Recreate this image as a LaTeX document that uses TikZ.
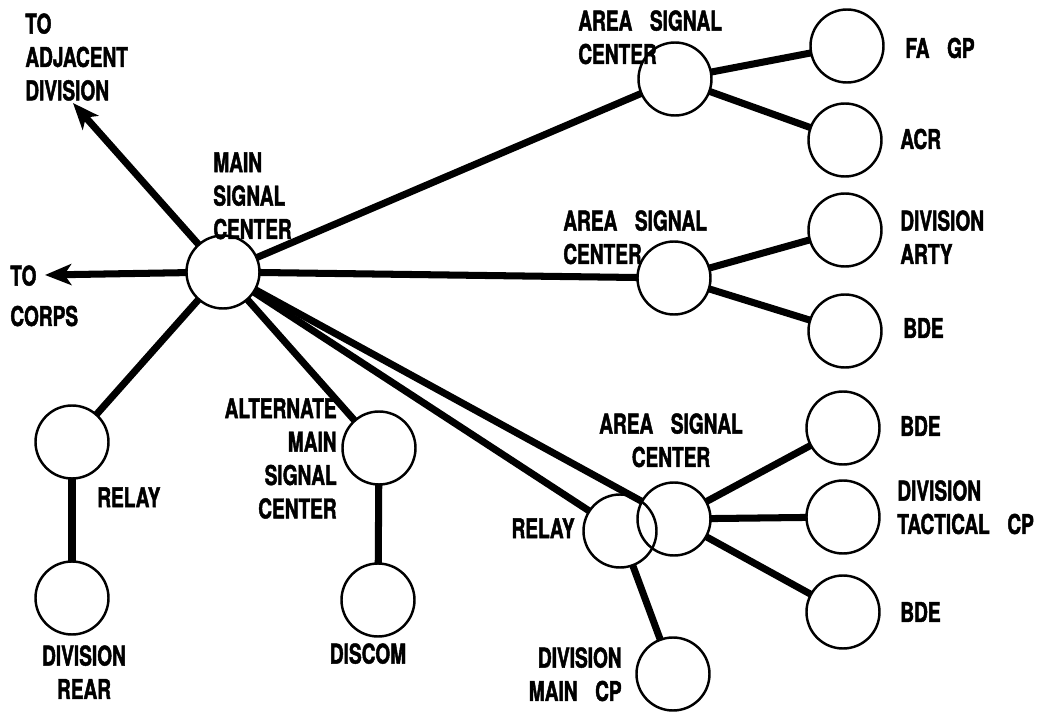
\documentclass[tikz,border=0pt]{standalone}
\usepackage{fontspec}
\setmainfont{TeX Gyre Heros}[FakeStretch=0.7,BoldFeatures={FakeBold=1.6}]
\usepackage{tikz}
\usetikzlibrary{arrows.meta,shapes,calc,positioning}
\tikzstyle{link}  =[line width=4pt]
\tikzstyle{feed}  =[line width=4pt,
                    -{Stealth[length=15pt,width=12pt,inset=4pt]}]
\tikzstyle{station}=[circle, draw, minimum size=1.46cm,
                    line width=1.4pt, inner sep=0pt,
                    outer sep=0pt]
\tikzstyle{tag}   =[inner sep=0pt, font=\bfseries\fontsize{15.5}{19}\selectfont]
\newcommand{\gap}{\hspace{10pt}}

\begin{document}
\begin{tikzpicture}
    \useasboundingbox (0,0) rectangle (21.06,-14.52);

    \draw (4.46,-5.44) node(msc)[station]{};
    \draw (13.5,-1.58) node(asc1)[station]{};
    \draw (16.94,-0.92) node(fagp)[station]{};
    \draw (16.9,-2.8) node(acr)[station]{};
    \draw (13.48,-5.56) node(asc2)[station]{};
    \draw (16.9,-4.6) node(arty)[station]{};
    \draw (16.9,-6.62) node(bde1)[station]{};
    \draw (13.48,-10.38) node(asc3)[station]{};
    \draw (16.86,-8.56) node(bde2)[station]{};
    \draw (16.86,-10.34) node(tac)[station]{};
    \draw (16.86,-12.24) node(bde3)[station]{};
    \draw (12.4,-10.62) node(rly2)[station]{};
    \draw (13.46,-13.48) node(maincp)[station]{};
    \draw (1.44,-8.84) node(rly1)[station]{};
    \draw (1.44,-11.96) node(rear)[station]{};
    \draw (7.58,-8.96) node(amsc)[station]{};
    \draw (7.56,-12.0) node(discom)[station]{};

    \coordinate (adj) at (1.46,-2.06);
    \coordinate (corps) at (0.9,-5.5);

    \foreach \i/\j in {msc/asc1,msc/asc2,msc/asc3,msc/rly2,msc/rly1,msc/amsc,
    asc1/fagp,asc1/acr,asc2/arty,asc2/bde1,asc3/bde2,asc3/tac,asc3/bde3,
    rly2/maincp,rly1/rear,amsc/discom}
        \draw [link] (\i) to (\j);

    \draw [feed] (msc) to (adj);
    \draw [feed] (msc) to (corps);

    % labels
    \node (t-adj) [tag,anchor=north west,align=left] at (0.5,-0.26) {TO\\ADJACENT\\DIVISION};
    \node (t-corps) [tag,anchor=north west,align=left] at (0.2,-5.3) {TO\\[4pt]CORPS};
    \node (t-msc) [tag,anchor=north west,align=left] at (4.26,-3.04) {MAIN\\SIGNAL\\CENTER};
    \node (t-asc1) [tag,anchor=north west,align=left] at (11.56,-0.2) {AREA\gap SIGNAL\\CENTER};
    \node (t-asc2) [tag,anchor=north west,align=left] at (11.26,-4.2) {AREA\gap SIGNAL\\CENTER};
    \node (t-asc3) [tag,anchor=north,align=center] at (13.42,-8.26) {AREA\gap SIGNAL\\CENTER};
    \node (t-fagp) [tag,anchor=west] at (18.1,-0.96) {FA\gap GP};
    \node (t-acr) [tag,anchor=west] at (18.0,-2.78) {ACR};
    \node (t-arty) [tag,anchor=north west,align=left] at (18.0,-4.2) {DIVISION\\ARTY};
    \node (t-bde1) [tag,anchor=west] at (18.06,-6.56) {BDE};
    \node (t-bde2) [tag,anchor=west] at (18.0,-8.52) {BDE};
    \node (t-tac) [tag,anchor=north west,align=left] at (17.94,-9.6) {DIVISION\\TACTICAL\gap CP};
    \node (t-bde3) [tag,anchor=west] at (18.0,-12.24) {BDE};
    \node (t-rly2) [tag,anchor=north east] at (11.5,-10.36) {RELAY};
    \node (t-maincp) [tag,anchor=north east,align=right] at (12.44,-12.94) {DIVISION\\MAIN\gap CP};
    \node (t-rly1) [tag,anchor=north west] at (1.94,-9.74) {RELAY};
    \node (t-rear) [tag,anchor=north,align=center] at (1.68,-12.9) {DIVISION\\REAR};
    \node (t-amsc) [tag,anchor=north east,align=right] at (6.74,-7.96) {ALTERNATE\\MAIN\\SIGNAL\\CENTER};
    \node (t-discom) [tag,anchor=north] at (7.36,-12.86) {DISCOM};

\end{tikzpicture}
\end{document}
